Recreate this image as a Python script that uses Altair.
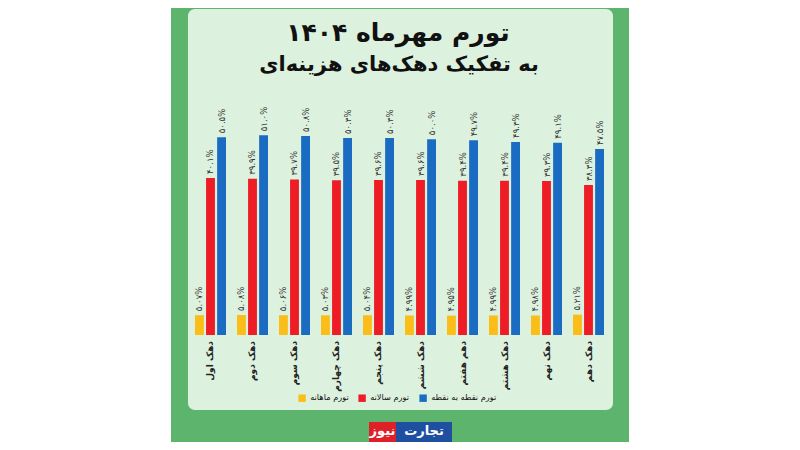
import altair as alt
import pandas as pd

# ---------------- data ----------------
deciles = ["دهک اول", "دهک دوم", "دهک سوم", "دهک چهارم", "دهک پنجم",
           "دهک ششم", "دهم هفتم", "دهک هشتم", "دهک نهم", "دهک دهم"]
series = ["تورم ماهانه", "تورم سالانه", "تورم نقطه به نقطه"]
monthly = [5.07, 5.08, 5.06, 5.03, 5.04, 4.99, 4.95, 4.99, 4.98, 5.21]
annual = [40.1, 39.9, 39.7, 39.5, 39.6, 39.6, 39.4, 39.4, 39.3, 38.3]
point = [50.5, 51.0, 50.8, 50.3, 50.3, 50.0, 49.7, 49.3, 49.1, 47.5]
decimals = [2, 1, 1]
colors = ["#fbbd18", "#ee1c24", "#1a6cc2"]

title_text = "تورم مهرماه ۱۴۰۴"
subtitle_text = "به تفکیک دهک‌های هزینه‌ای"

FA = str.maketrans("0123456789", "۰۱۲۳۴۵۶۷۸۹")

rows = []
for s, vals, d in zip(series, [monthly, annual, point], decimals):
    for dec, v in zip(deciles, vals):
        rows.append({"decile": dec, "series": s, "value": v,
                     "label": (f"{v:.{d}f}%").translate(FA)})
df = pd.DataFrame(rows)
cats = pd.DataFrame({"decile": deciles})

W, H = 784, 434
FONT = "DejaVu Sans"
GREEN = "#5db46c"
PANEL = "#ddf1df"

one = pd.DataFrame({"a": [0]})

bg = alt.Chart(one).mark_rect(color=GREEN).encode(
    x=alt.value(163), x2=alt.value(621), y=alt.value(0), y2=alt.value(H))
panel = alt.Chart(one).mark_rect(color=PANEL, cornerRadius=7).encode(
    x=alt.value(180), x2=alt.value(605), y=alt.value(1), y2=alt.value(402))

title = alt.Chart(pd.DataFrame({"t": [title_text]})).mark_text(
    font=FONT, fontSize=25, fontWeight="bold", color="#111",
    align="center", baseline="middle").encode(
    text="t:N", x=alt.value(390), y=alt.value(25))
subtitle = alt.Chart(pd.DataFrame({"t": [subtitle_text]})).mark_text(
    font=FONT, fontSize=21, fontWeight="bold", color="#111",
    align="center", baseline="middle").encode(
    text="t:N", x=alt.value(391), y=alt.value(57))

xscale = alt.Scale(range=[187, 596], paddingInner=0.262, paddingOuter=0)
xenc = alt.X("decile:N", sort=deciles, title=None, scale=xscale, axis=None)
xoff = alt.XOffset("series:N", sort=series, scale=alt.Scale(paddingInner=0.2))
yenc = alt.Y("value:Q", scale=alt.Scale(domain=[0, 60], range=[327, 92]), axis=None)

bars = alt.Chart(df).mark_bar().encode(
    x=xenc, xOffset=xoff, y=yenc,
    color=alt.Color("series:N", sort=series,
                    scale=alt.Scale(domain=series, range=colors),
                    legend=alt.Legend(orient="none", legendX=290, legendY=386,
                                      direction="horizontal", title=None,
                                      symbolType="square", symbolSize=55,
                                      symbolStrokeWidth=0, labelFont=FONT,
                                      labelFontSize=8.2, labelFontWeight="normal",
                                      labelColor="#111", columnPadding=9,
                                      labelOffset=4, symbolOffset=0)))

labels = alt.Chart(df).mark_text(
    angle=270, align="left", baseline="middle", dx=4,
    font=FONT, fontSize=8.5, color="#333").encode(
    x=alt.X("decile:N", sort=deciles), xOffset=alt.XOffset("series:N", sort=series),
    y=alt.Y("value:Q"), text="label:N")

cat_labels = alt.Chart(cats).mark_text(
    angle=270, align="right", baseline="middle", dx=-6,
    font=FONT, fontSize=9, fontWeight="bold", color="#222").encode(
    x=alt.X("decile:N", sort=deciles), y=alt.datum(0), text="decile:N")

logo_blue = alt.Chart(one).mark_rect(color="#1f4fa0").encode(
    x=alt.value(388), x2=alt.value(444), y=alt.value(414), y2=alt.value(434))
logo_red = alt.Chart(one).mark_rect(color="#e02028").encode(
    x=alt.value(361), x2=alt.value(388), y=alt.value(414), y2=alt.value(434))
logo_t1 = alt.Chart(pd.DataFrame({"t": ["تجارت"]})).mark_text(
    font=FONT, fontSize=13, fontWeight="bold", color="white",
    align="center", baseline="middle").encode(
    text="t:N", x=alt.value(416), y=alt.value(423))
logo_t2 = alt.Chart(pd.DataFrame({"t": ["نیوز"]})).mark_text(
    font=FONT, fontSize=13, fontWeight="bold", color="white",
    align="center", baseline="middle").encode(
    text="t:N", x=alt.value(374.5), y=alt.value(423))

chart = alt.layer(bg, panel, title, subtitle, bars, labels, cat_labels,
                  logo_blue, logo_red, logo_t1, logo_t2).properties(
    width=W, height=H, padding=0,
    autosize=alt.AutoSizeParams(type="none"),
    background="white"
).configure_view(stroke=None)

chart.save("out.html", embed_options={"renderer": "svg", "actions": False})
